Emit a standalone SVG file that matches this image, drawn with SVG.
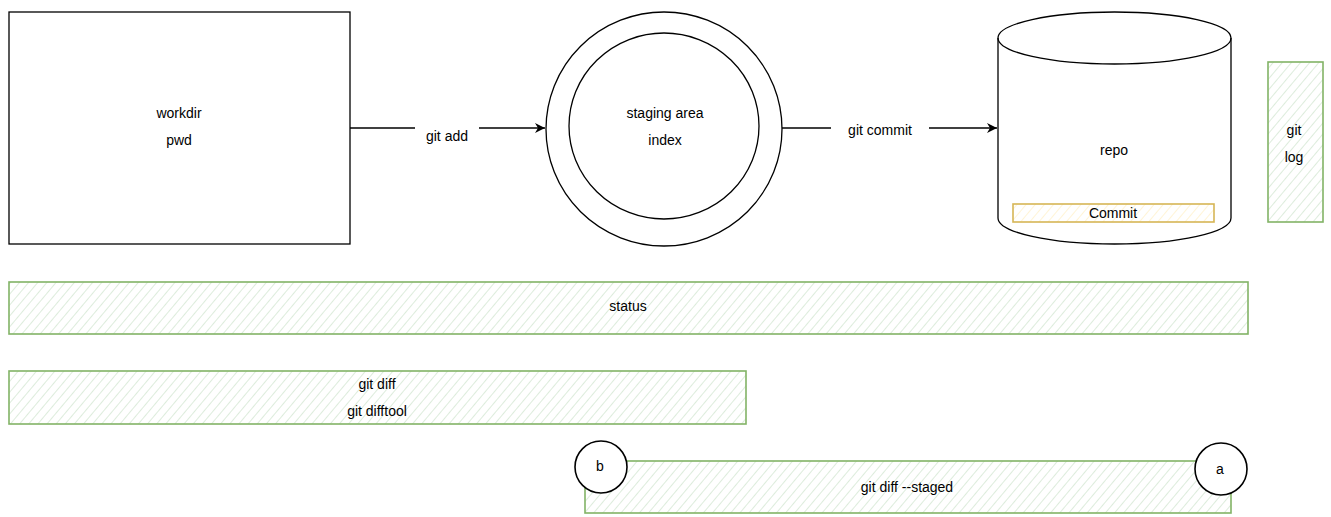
<svg xmlns="http://www.w3.org/2000/svg" width="1331" height="517" viewBox="0 0 1331 517">
<style>
.t{font-family:"Liberation Sans",Arial,sans-serif;font-size:14px;fill:#000;text-anchor:middle;dominant-baseline:central}
.blk{fill:#fff;stroke:#000;stroke-width:1.3}
.grn{fill:url(#hg);stroke:#82b366;stroke-width:1.6}
.yel{fill:url(#hy);stroke:#d6b656;stroke-width:1.6}
.edge{fill:none;stroke:#000;stroke-width:1.6}
</style>
<defs>
<pattern id="hg" width="7" height="7" patternUnits="userSpaceOnUse" patternTransform="rotate(40)">
<rect width="7" height="7" fill="#fff"/>
<line x1="0" y1="0" x2="0" y2="7" stroke="#d5e8d4" stroke-width="1.6"/>
</pattern>
<pattern id="hy" width="7" height="7" patternUnits="userSpaceOnUse" patternTransform="rotate(40)">
<rect width="7" height="7" fill="#fff"/>
<line x1="0" y1="0" x2="0" y2="7" stroke="#fff2cc" stroke-width="1.6"/>
</pattern>
<marker id="arr" markerWidth="12" markerHeight="12" refX="10" refY="5" orient="auto" markerUnits="userSpaceOnUse">
<path d="M0,0 L10,5 L0,10 L3,5 Z" fill="#000"/>
</marker>
</defs>

<g id="connectors">
<path class="edge" d="M350,128 H545" marker-end="url(#arr)"/>
<rect x="415" y="126" width="64" height="20" fill="#fff"/>
<text class="t" x="447" y="136">git add</text>
<path class="edge" d="M782,128 H997" marker-end="url(#arr)"/>
<rect x="831" y="120" width="98" height="20" fill="#fff"/>
<text class="t" x="880" y="130">git commit</text>
</g>

<g id="workdir">
<rect class="blk" x="9" y="12" width="341" height="232"/>
<text class="t" x="179" y="113">workdir</text>
<text class="t" x="179" y="140">pwd</text>
</g>

<g id="staging">
<ellipse class="blk" cx="664" cy="129" rx="118" ry="117"/>
<ellipse class="blk" cx="664" cy="126" rx="95" ry="93"/>
<text class="t" x="665" y="113">staging area</text>
<text class="t" x="665" y="140">index</text>
</g>

<g id="repo">
<path class="blk" d="M998,38 A116.5,26 0 0 1 1231,38 V218 A116.5,26 0 0 1 998,218 Z"/>
<path fill="none" stroke="#000" stroke-width="1.3" d="M998,38 A116.5,26 0 0 0 1231,38"/>
<text class="t" x="1114" y="150">repo</text>
</g>

<g id="commit">
<rect class="yel" x="1013" y="204" width="201" height="18"/>
<text class="t" x="1113" y="213">Commit</text>
</g>

<g id="gitlog">
<rect class="grn" x="1268" y="62" width="55" height="160"/>
<text class="t" x="1294" y="130">git</text>
<text class="t" x="1294" y="157">log</text>
</g>

<g id="status">
<rect class="grn" x="9" y="282" width="1239" height="52"/>
<text class="t" x="628" y="306">status</text>
</g>

<g id="gitdiff">
<rect class="grn" x="9" y="371" width="737" height="53"/>
<text class="t" x="377" y="384">git diff</text>
<text class="t" x="377" y="411">git difftool</text>
</g>

<g id="gitdiffstaged">
<rect class="grn" x="585" y="461" width="646" height="52"/>
<text class="t" x="907" y="487">git diff --staged</text>
</g>

<g id="b">
<circle cx="601" cy="467" r="26" fill="#fff" stroke="#000" stroke-width="1.6"/>
<text class="t" x="600" y="466">b</text>
</g>

<g id="a">
<circle cx="1221" cy="469" r="26" fill="#fff" stroke="#000" stroke-width="1.6"/>
<text class="t" x="1220" y="469">a</text>
</g>
</svg>
